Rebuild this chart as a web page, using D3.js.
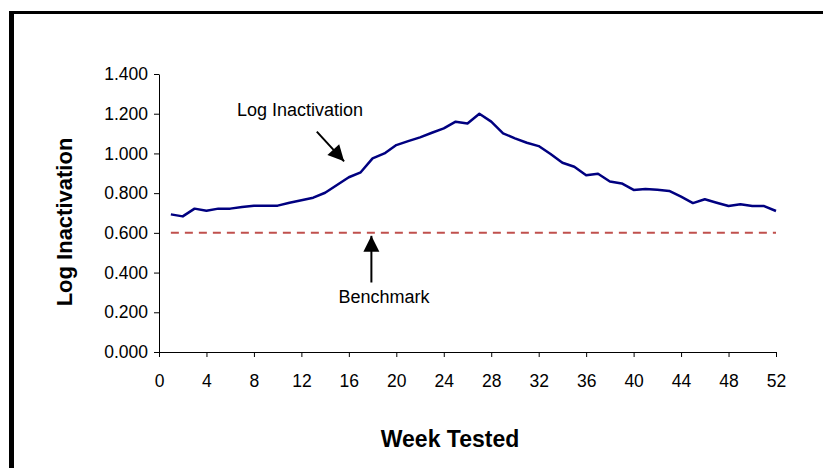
<!DOCTYPE html>
<html>
<head>
<meta charset="utf-8">
<script src="https://cdn.jsdelivr.net/npm/d3@7"></script>
<style>
  body { margin: 0; background: #fff; }
  svg text { font-family: "Liberation Sans", Arial, sans-serif; fill: #000; }
</style>
</head>
<body>
<div id="chart"></div>
<script>
// weekly log inactivation
const weeks = d3.range(1, 53);
const logInactivation = [
  0.693, 0.683, 0.722, 0.711, 0.722, 0.722, 0.730, 0.737, 0.737, 0.737,
  0.752, 0.764, 0.777, 0.802, 0.841, 0.880, 0.905, 0.975, 1.000, 1.042,
  1.062, 1.081, 1.104, 1.126, 1.160, 1.151, 1.200, 1.160, 1.101, 1.076,
  1.054, 1.037, 0.997, 0.953, 0.933, 0.890, 0.898, 0.859, 0.849, 0.816,
  0.821, 0.817, 0.811, 0.782, 0.750, 0.769, 0.752, 0.735, 0.744, 0.735,
  0.735, 0.710
];
const benchmark = 0.6;
const xTicks = d3.range(0, 53, 4);
const yTicks = [0, 0.2, 0.4, 0.6, 0.8, 1.0, 1.2, 1.4];

const width = 823, height = 468;
const margin = { left: 159, right: 47, top: 74, bottom: 116 };

const svg = d3.select("#chart").append("svg")
    .attr("width", width)
    .attr("height", height);

// outer frame (only top and left edges are inside the picture)
svg.append("rect").attr("x", 9).attr("y", 11).attr("width", 5).attr("height", height).attr("fill", "#000");
svg.append("rect").attr("x", 9).attr("y", 11).attr("width", width).attr("height", 3).attr("fill", "#000");

const x = d3.scaleLinear().domain([0, 52]).range([margin.left, width - margin.right]);
const y = d3.scaleLinear().domain([0, 1.4]).range([height - margin.bottom, margin.top]);

// axes
const xAxis = svg.append("g")
    .attr("transform", `translate(0,${y(0)})`)
    .call(d3.axisBottom(x).tickValues(xTicks).tickSize(5).tickPadding(18).tickSizeOuter(0));
const yAxis = svg.append("g")
    .attr("transform", `translate(${x(0)},0)`)
    .call(d3.axisLeft(y).tickValues(yTicks).tickFormat(d3.format(".3f")).tickSize(5).tickPadding(6).tickSizeOuter(0));

[xAxis, yAxis].forEach(g => {
    g.select(".domain").attr("stroke", "#000").attr("stroke-width", 1);
    g.selectAll(".tick line").attr("stroke", "#000");
    g.selectAll(".tick text").style("font-size", "17.5px").style("font-family", "Liberation Sans, Arial, sans-serif");
});

// benchmark line
svg.append("line")
    .attr("x1", x(weeks[0])).attr("x2", x(weeks[weeks.length - 1]))
    .attr("y1", y(benchmark)).attr("y2", y(benchmark))
    .attr("stroke", "#c0504d")
    .attr("stroke-width", 2)
    .attr("stroke-dasharray", "8,6");

// data line
const line = d3.line()
    .x((d, i) => x(weeks[i]))
    .y(d => y(d));

svg.append("path")
    .datum(logInactivation)
    .attr("fill", "none")
    .attr("stroke", "#000080")
    .attr("stroke-width", 2.5)
    .attr("stroke-linejoin", "round")
    .attr("d", line);

// arrow with filled triangle head
function arrow(x1, y1, x2, y2) {
    svg.append("line")
        .attr("x1", x1).attr("y1", y1).attr("x2", x2).attr("y2", y2)
        .attr("stroke", "#000").attr("stroke-width", 2);
    const a = Math.atan2(y2 - y1, x2 - x1), L = 16, W = 8;
    const bx = x2 - L * Math.cos(a), by = y2 - L * Math.sin(a);
    svg.append("path")
        .attr("d", `M${x2},${y2} L${bx + W * Math.sin(a)},${by - W * Math.cos(a)} L${bx - W * Math.sin(a)},${by + W * Math.cos(a)} Z`)
        .attr("fill", "#000");
}

svg.append("text")
    .attr("x", 300).attr("y", 116)
    .attr("text-anchor", "middle")
    .style("font-size", "18px")
    .text("Log Inactivation");
arrow(x(13.3), y(1.11), x(15.6), y(0.96));

svg.append("text")
    .attr("x", 384).attr("y", 303)
    .attr("text-anchor", "middle")
    .style("font-size", "18px")
    .text("Benchmark");
arrow(x(17.9), y(0.35), x(17.9), y(0.585));

// axis titles
svg.append("text")
    .attr("x", 450).attr("y", 447)
    .attr("text-anchor", "middle")
    .style("font-size", "23px").style("font-weight", "bold")
    .text("Week Tested");

svg.append("text")
    .attr("transform", "translate(72,222) rotate(-90)")
    .attr("text-anchor", "middle")
    .style("font-size", "22px").style("font-weight", "bold")
    .text("Log Inactivation");
</script>
</body>
</html>
